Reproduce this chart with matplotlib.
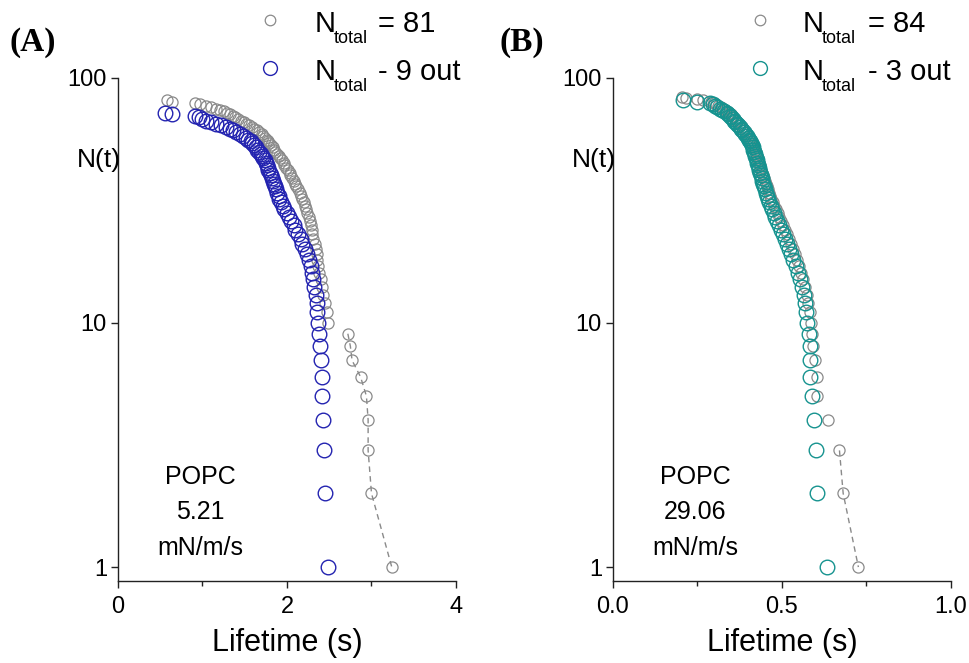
import numpy as np
import matplotlib
matplotlib.use("Agg")
import matplotlib.pyplot as plt
from matplotlib.lines import Line2D
from matplotlib.ticker import FixedLocator, FixedFormatter, AutoMinorLocator, NullLocator

plt.rcParams['font.family'] = ['Liberation Sans', 'DejaVu Sans']

# ---- data: event lifetimes (s), sorted ascending ----
# panel A, all events (N_total = 81)
a_all = [0.58, 0.64, 0.91, 0.97, 1.04, 1.10, 1.16, 1.21, 1.25, 1.29,
         1.32, 1.36, 1.39, 1.42, 1.46, 1.49, 1.52, 1.55, 1.58, 1.61,
         1.64, 1.67, 1.70, 1.72, 1.74, 1.76, 1.78, 1.79, 1.81, 1.83,
         1.85, 1.86, 1.88, 1.90, 1.92, 1.94, 1.96, 1.97, 1.99, 2.01,
         2.03, 2.04, 2.06, 2.08, 2.10, 2.11, 2.13, 2.15, 2.17, 2.18,
         2.20, 2.21, 2.23, 2.24, 2.26, 2.27, 2.28, 2.29, 2.30, 2.31,
         2.33, 2.34, 2.35, 2.36, 2.37, 2.38, 2.40, 2.41, 2.43, 2.45,
         2.47, 2.49, 2.72, 2.75, 2.77, 2.87, 2.94, 2.96, 2.96, 3.00,
         3.24]
# panel A, after removing 9 events
a_kept = [0.56, 0.635, 0.91, 0.96, 1.00, 1.04, 1.10, 1.16, 1.22, 1.28,
          1.32, 1.36, 1.40, 1.44, 1.48, 1.51, 1.54, 1.57, 1.59, 1.61,
          1.63, 1.65, 1.67, 1.69, 1.71, 1.72, 1.74, 1.75, 1.76, 1.77,
          1.78, 1.80, 1.81, 1.82, 1.83, 1.85, 1.86, 1.87, 1.88, 1.90,
          1.91, 1.93, 1.95, 1.97, 2.00, 2.02, 2.05, 2.08, 2.10, 2.13,
          2.16, 2.18, 2.21, 2.24, 2.26, 2.28, 2.30, 2.31, 2.32, 2.34,
          2.35, 2.36, 2.37, 2.38, 2.39, 2.40, 2.41, 2.42, 2.43, 2.44,
          2.45, 2.48]
# panel B, all events (N_total = 84)
b_all = [0.205, 0.215, 0.250, 0.265, 0.290, 0.298, 0.305, 0.312, 0.319, 0.326,
         0.332, 0.338, 0.343, 0.348, 0.352, 0.356, 0.360, 0.364, 0.368, 0.372,
         0.377, 0.381, 0.385, 0.389, 0.393, 0.397, 0.400, 0.403, 0.406, 0.409,
         0.412, 0.415, 0.418, 0.420, 0.422, 0.424, 0.426, 0.428, 0.430, 0.432,
         0.434, 0.436, 0.438, 0.441, 0.443, 0.446, 0.449, 0.452, 0.455, 0.458,
         0.461, 0.464, 0.468, 0.472, 0.477, 0.482, 0.487, 0.492, 0.497, 0.503,
         0.509, 0.515, 0.521, 0.527, 0.533, 0.539, 0.545, 0.551, 0.557, 0.563,
         0.568, 0.573, 0.577, 0.582, 0.586, 0.590, 0.593, 0.598, 0.603, 0.605,
         0.635, 0.670, 0.681, 0.726]
# panel B, after removing 3 events
b_kept = [0.208, 0.248, 0.287, 0.295, 0.302, 0.309, 0.316, 0.322, 0.329, 0.336,
          0.341, 0.345, 0.350, 0.354, 0.358, 0.362, 0.366, 0.370, 0.376, 0.379,
          0.383, 0.387, 0.391, 0.395, 0.398, 0.401, 0.404, 0.407, 0.410, 0.413,
          0.415, 0.417, 0.419, 0.421, 0.423, 0.425, 0.427, 0.429, 0.431, 0.433,
          0.435, 0.437, 0.440, 0.442, 0.444, 0.447, 0.450, 0.452, 0.455, 0.458,
          0.462, 0.466, 0.470, 0.475, 0.479, 0.484, 0.490, 0.496, 0.502, 0.508,
          0.514, 0.520, 0.527, 0.533, 0.540, 0.546, 0.553, 0.560, 0.565, 0.568,
          0.571, 0.575, 0.580, 0.582, 0.583, 0.584, 0.588, 0.596, 0.601, 0.604,
          0.632]

a_removed = 9
b_removed = 3
a_rate = "5.21"
b_rate = "29.06"
lipid = "POPC"

y_ticks = [1, 10, 100]
y_ticklabels = ["1", "10", "100"]
a_xticks = [0, 2, 4]
a_xticklabels = ["0", "2", "4"]
b_xticks = [0.0, 0.5, 1.0]
b_xticklabels = ["0.0", "0.5", "1.0"]

# ---- style ----
W, H = 970, 663
GRAY = "#8a8a8a"
BLUE = "#2323b0"
TEAL = "#16938f"
AXC = "#222222"


def fx(px):
    return px / W


def fy(py):
    return 1 - py / H


fig = plt.figure(figsize=(W / 100, H / 100), dpi=100)

panels = [
    dict(tag="(A)", tag_x=10, all=a_all, kept=a_kept, removed=a_removed, color=BLUE,
         rate=a_rate, left=118, xlim=(0, 4), xticks=a_xticks, xticklabels=a_xticklabels,
         leg_mk=270, leg_tx=315, leg_sub=334, leg_rest=378),
    dict(tag="(B)", tag_x=500, all=b_all, kept=b_kept, removed=b_removed, color=TEAL,
         rate=b_rate, left=613, xlim=(0, 1), xticks=b_xticks, xticklabels=b_xticklabels,
         leg_mk=760, leg_tx=803, leg_sub=822, leg_rest=868),
]

top_px, bot_px, width_px = 78, 581, 338

for p in panels:
    ax = fig.add_axes([fx(p["left"]), fy(bot_px), width_px / W, (bot_px - top_px) / H])
    t_all = np.asarray(p["all"])
    t_kept = np.asarray(p["kept"])
    # survival count: number of events with lifetime >= t
    n_all = np.arange(len(t_all), 0, -1)
    n_kept = np.arange(len(t_kept), 0, -1)

    k = p["removed"]
    ax.plot(t_all[-k:], n_all[-k:], ls=(0, (4, 3)), color=GRAY, lw=1.0, zorder=1)
    h_all, = ax.plot(t_all, n_all, ls="none", marker="o", ms=8, mfc="none",
                     mec=GRAY, mew=0.9, zorder=2)
    h_kept, = ax.plot(t_kept, n_kept, ls="none", marker="o", ms=10.5, mfc="none",
                      mec=p["color"], mew=1.0, zorder=3)

    ax.set_yscale("log")
    ax.set_ylim(0.877, 100)
    ax.set_xlim(*p["xlim"])
    ax.yaxis.set_major_locator(FixedLocator(y_ticks))
    ax.yaxis.set_major_formatter(FixedFormatter(y_ticklabels))
    ax.yaxis.set_minor_locator(NullLocator())
    ax.xaxis.set_major_locator(FixedLocator(p["xticks"]))
    ax.xaxis.set_major_formatter(FixedFormatter(p["xticklabels"]))
    ax.xaxis.set_minor_locator(AutoMinorLocator(2))

    for side in ("top", "right"):
        ax.spines[side].set_visible(False)
    for side in ("left", "bottom"):
        ax.spines[side].set_color(AXC)
        ax.spines[side].set_linewidth(1.0)
    ax.tick_params(which="major", direction="out", length=5, width=1.0, color=AXC,
                   labelsize=17, pad=3)
    ax.tick_params(axis="x", which="major", pad=6)
    ax.tick_params(which="minor", direction="out", length=3.5, width=1.0, color=AXC)

    ax.set_xlabel("Lifetime (s)", fontsize=22, labelpad=7)

    cx = p["left"]
    fig.text(fx(cx - 19), fy(160), "N(t)", fontsize=19, ha="center", va="center")

    # annotation block
    bx = p["left"] + 82
    for txt, yy in ((lipid, 477), (p["rate"], 512), ("mN/m/s", 548)):
        fig.text(fx(bx), fy(yy), txt, fontsize=18, ha="center", va="center")

    # panel tag
    fig.text(fx(p["tag_x"]), fy(42), p["tag"], fontsize=24, fontweight="bold",
             family=["Liberation Serif", "DejaVu Serif"], ha="left", va="center")

    # legend rows
    rows = ((h_all, 20, "= %d" % len(t_all)), (h_kept, 68, "- %d out" % k))
    for h, yy, rest in rows:
        fig.add_artist(Line2D([fx(p["leg_mk"])], [fy(yy)], transform=fig.transFigure,
                              ls="none", marker="o", ms=h.get_markersize() * 0.95,
                              mfc="none", mec=h.get_markeredgecolor(),
                              mew=h.get_markeredgewidth()))
        fig.text(fx(p["leg_tx"]), fy(yy + 12), "N", fontsize=21, ha="left", va="baseline")
        fig.text(fx(p["leg_sub"]), fy(yy + 23), "total", fontsize=13, ha="left", va="baseline")
        fig.text(fx(p["leg_rest"]), fy(yy + 12), rest, fontsize=21, ha="left", va="baseline")

fig.savefig("out.png", dpi=100)
